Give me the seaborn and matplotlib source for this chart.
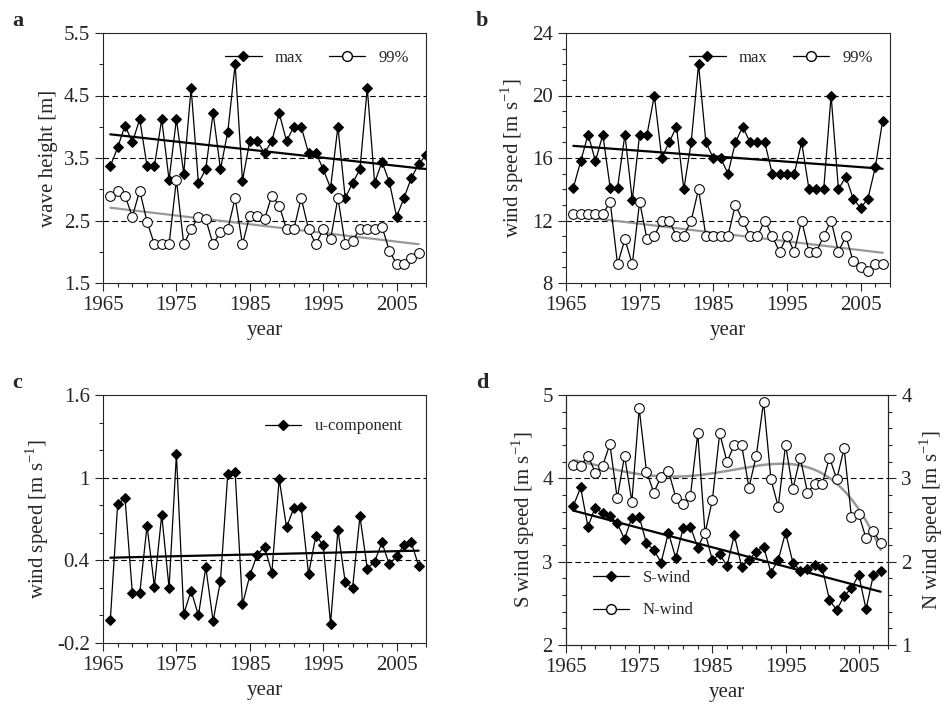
import numpy as np
import pandas as pd
import matplotlib
matplotlib.use('Agg')
import matplotlib.pyplot as plt
from matplotlib.ticker import MultipleLocator, FixedLocator
from matplotlib.lines import Line2D
import seaborn as sns

# --- data ---
years_a_max = np.arange(1966, 2010)
wave_max = [3.37, 3.67, 4.02, 3.75, 4.12, 3.37, 3.37, 4.12, 3.15, 4.12, 3.25, 4.62, 3.10, 3.32,
            4.22, 3.32, 3.92, 5.00, 3.14, 3.77, 3.77, 3.58, 3.77, 4.22, 3.77, 4.00, 4.00, 3.58,
            3.58, 3.32, 3.02, 4.00, 2.86, 3.10, 3.32, 4.62, 3.10, 3.44, 3.12, 2.56, 2.86, 3.18,
            3.40, 3.55]
years_a_99 = np.arange(1966, 2009)
wave_99 = [2.90, 2.98, 2.90, 2.56, 2.98, 2.48, 2.12, 2.12, 2.12, 3.15, 2.12, 2.36, 2.56, 2.52,
           2.12, 2.32, 2.36, 2.86, 2.12, 2.58, 2.58, 2.52, 2.90, 2.74, 2.36, 2.36, 2.86, 2.36,
           2.12, 2.36, 2.20, 2.86, 2.12, 2.18, 2.36, 2.36, 2.36, 2.40, 2.02, 1.80, 1.80, 1.90,
           1.98]

years = np.arange(1966, 2009)
wind_max = [14.1, 15.8, 17.5, 15.8, 17.5, 14.1, 14.1, 17.5, 13.3, 17.5, 17.5, 20, 16, 17, 18,
            14, 17, 22, 17, 16, 16, 15, 17, 18, 17, 17, 17, 15, 15, 15, 15, 17, 14, 14, 14, 20,
            14, 14.8, 13.4, 12.8, 13.4, 15.4, 18.4]
wind_99 = [12.4, 12.4, 12.4, 12.4, 12.4, 13.2, 9.2, 10.8, 9.2, 13.2, 10.8, 11, 12, 12, 11, 11,
           12, 14, 11, 11, 11, 11, 13, 12, 11, 11, 12, 11, 10, 11, 10, 12, 10, 10, 11, 12, 10,
           11, 9.4, 9.0, 8.8, 9.2, 9.2]

u_comp = [-0.03, 0.81, 0.85, 0.16, 0.16, 0.65, 0.21, 0.73, 0.20, 1.17, 0.01, 0.18, 0.00, 0.35,
          -0.04, 0.25, 1.03, 1.04, 0.08, 0.29, 0.44, 0.50, 0.31, 0.99, 0.64, 0.78, 0.79, 0.30,
          0.58, 0.51, -0.06, 0.62, 0.24, 0.20, 0.72, 0.34, 0.39, 0.53, 0.37, 0.43, 0.51, 0.53,
          0.36]

s_wind = [3.67, 3.89, 3.42, 3.65, 3.58, 3.55, 3.46, 3.27, 3.53, 3.54, 3.22, 3.14, 2.99, 3.35,
          3.04, 3.40, 3.42, 3.17, 3.35, 3.02, 3.09, 2.95, 3.32, 2.94, 3.02, 3.12, 3.18, 2.87,
          3.02, 3.35, 2.99, 2.89, 2.91, 2.96, 2.93, 2.54, 2.42, 2.59, 2.68, 2.84, 2.43, 2.84,
          2.89]
n_wind = [3.16, 3.15, 3.27, 3.07, 3.15, 3.41, 2.76, 3.27, 2.72, 3.84, 3.08, 2.83, 3.02, 3.09,
          2.77, 2.69, 2.79, 3.54, 2.34, 2.74, 3.54, 3.20, 3.40, 3.40, 2.89, 3.27, 3.92, 2.99,
          2.66, 3.40, 2.87, 3.25, 2.83, 2.93, 2.93, 3.25, 2.99, 3.36, 2.54, 2.57, 2.28, 2.37,
          2.22]

sns.set_style('ticks')
plt.rcParams['font.family'] = ['Liberation Serif', 'DejaVu Serif']
plt.rcParams['font.size'] = 14
plt.rcParams['axes.linewidth'] = 0.8

fig = plt.figure(figsize=(9.53, 7.10), dpi=100)
W, H = 953, 710
def add_ax(l, t, r, b):
    return fig.add_axes([l / W, 1 - b / H, (r - l) / W, (b - t) / H])

ax_a = add_ax(103, 33, 426, 283)
ax_b = add_ax(566, 33, 890, 283)
ax_c = add_ax(103, 395, 426, 643)
ax_d = add_ax(566, 395, 888, 645)

filled = dict(marker='D', markersize=5, color='black', markerfacecolor='black',
              markeredgecolor='black', linewidth=0.9)
hollow = dict(marker='o', markersize=7, color='black', markerfacecolor='white',
              markeredgecolor='black', linewidth=0.9)
h_max = Line2D([0], [0], **filled)
h_99 = Line2D([0], [0], **hollow)
leg_kw = dict(frameon=False, fontsize=12, handlelength=2.2, numpoints=1)

def trend(ax, x, y, color, deg=1, lw=1.6):
    p = np.polyfit(x, y, deg)
    xx = np.linspace(x[0], x[-1], 200)
    ax.plot(xx, np.polyval(p, xx), color=color, lw=lw, zorder=1)

def style(ax, ylim, major, minor, ylabel, letter, grid):
    ax.set_xlim(1965, 2009)
    ax.set_ylim(*ylim)
    ax.set_xticks([1965, 1975, 1985, 1995, 2005])
    ax.xaxis.set_minor_locator(FixedLocator(np.arange(1965, 2010, 2)))
    ax.set_yticks(major)
    ax.yaxis.set_minor_locator(MultipleLocator(minor))
    ax.tick_params(which='major', length=6, width=0.8, labelsize=15)
    ax.tick_params(which='minor', length=3, width=0.8)
    ax.set_xlabel('year', fontsize=15)
    ax.set_ylabel(ylabel, fontsize=15)
    for g in grid:
        ax.axhline(g, color='black', ls=(0, (5, 3)), lw=0.8, zorder=0)
    ax.text(-0.28, 1.03, letter, transform=ax.transAxes, fontsize=16, fontweight='bold')

# a
df = pd.DataFrame({'year': years_a_max, 'v': wave_max})
sns.lineplot(data=df, x='year', y='v', ax=ax_a, legend=False, **filled)
df = pd.DataFrame({'year': years_a_99, 'v': wave_99})
sns.lineplot(data=df, x='year', y='v', ax=ax_a, legend=False, **hollow)
trend(ax_a, years_a_max, wave_max, 'black')
trend(ax_a, years_a_99, wave_99, '#999999')
style(ax_a, (1.5, 5.5), [1.5, 2.5, 3.5, 4.5, 5.5], 0.5, 'wave height [m]', 'a', [2.5, 3.5, 4.5])
ax_a.set_yticklabels(['1.5', '2.5', '3.5', '4.5', '5.5'])
ax_a.legend([h_max, h_99], ['max', '99%'], ncol=2, loc='upper right',
            columnspacing=1.5, borderaxespad=0.6, **leg_kw)

# b
df = pd.DataFrame({'year': years, 'max': wind_max, 'p99': wind_99})
sns.lineplot(data=df, x='year', y='max', ax=ax_b, legend=False, **filled)
sns.lineplot(data=df, x='year', y='p99', ax=ax_b, legend=False, **hollow)
trend(ax_b, years, wind_max, 'black')
trend(ax_b, years, wind_99, '#999999')
style(ax_b, (8, 24), [8, 12, 16, 20, 24], 1, r'wind speed [m s$^{\mathregular{-1}}$]', 'b', [12, 16, 20])
ax_b.legend([h_max, h_99], ['max', '99%'], ncol=2, loc='upper right',
            columnspacing=1.5, borderaxespad=0.6, **leg_kw)

# c
df = pd.DataFrame({'year': years, 'u': u_comp})
sns.lineplot(data=df, x='year', y='u', ax=ax_c, legend=False, **filled)
trend(ax_c, years, u_comp, 'black')
style(ax_c, (-0.2, 1.6), [-0.2, 0.4, 1.0, 1.6], 0.2, r'wind speed [m s$^{\mathregular{-1}}$]', 'c', [0.4, 1.0])
ax_c.set_yticklabels(['-0.2', '0.4', '1', '1.6'])
ax_c.legend([h_max], ['u-component'], loc='upper right', borderaxespad=1.0, **leg_kw)

# d
df = pd.DataFrame({'year': years, 's': s_wind, 'n': n_wind})
ax_d2 = ax_d.twinx()
sns.lineplot(data=df, x='year', y='s', ax=ax_d, legend=False, **filled)
sns.lineplot(data=df, x='year', y='n', ax=ax_d2, legend=False, **hollow)
trend(ax_d, years, s_wind, 'black')
trend(ax_d2, years, n_wind, '#999999', deg=4, lw=1.8)
style(ax_d, (2, 5), [2, 3, 4, 5], 0.2, r'S wind speed [m s$^{\mathregular{-1}}$]', 'd', [3, 4])
ax_d2.set_ylim(1, 4)
ax_d2.set_yticks([1, 2, 3, 4])
ax_d2.yaxis.set_minor_locator(MultipleLocator(0.2))
ax_d2.tick_params(which='major', length=6, width=0.8, labelsize=15)
ax_d2.tick_params(which='minor', length=3, width=0.8)
ax_d2.set_ylabel(r'N wind speed [m s$^{\mathregular{-1}}$]', fontsize=15)
ax_d.legend([h_max, h_99], ['S-wind', 'N-wind'], loc='lower left',
            labelspacing=1.0, borderaxespad=1.2, **leg_kw)

fig.savefig('out.png', dpi=100)
